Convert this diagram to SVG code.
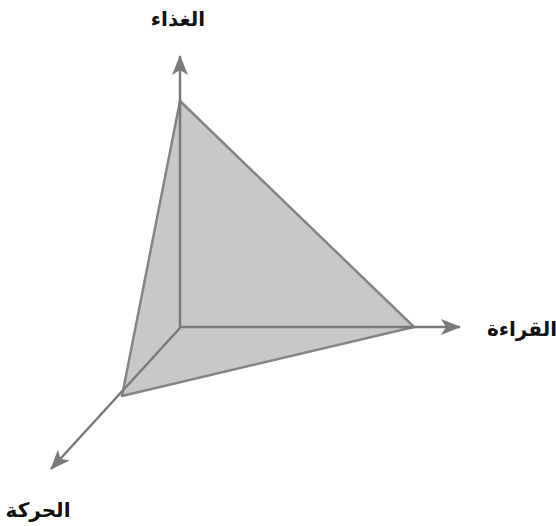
<svg xmlns="http://www.w3.org/2000/svg" width="556" height="526" viewBox="0 0 556 526">
<style>
.axis{stroke:#7a7a7a;stroke-width:2.5;fill:none}
.edge{stroke:#858585;stroke-width:2.5;fill:#c9c8c6;stroke-linejoin:round}
.lbl{font-family:"DejaVu Sans",sans-serif;font-weight:bold;font-size:20px;fill:#111}
</style>
<defs>
<marker id="ah" viewBox="0 0 20 16" refX="19" refY="8" markerWidth="20" markerHeight="16" orient="auto" markerUnits="userSpaceOnUse">
<path d="M0,0 L20,8 L0,16 L5,8 Z" fill="#7a7a7a"/>
</marker>
</defs>
<rect width="556" height="526" fill="#fff"/>
<g id="plane">
<polygon class="edge" points="180,101 414,327 122,396"/>
</g>
<g id="connectors">
<line class="axis" x1="180" y1="328" x2="180" y2="56" marker-end="url(#ah)"/>
<line class="axis" x1="180" y1="327" x2="460" y2="327" marker-end="url(#ah)"/>
<line class="axis" x1="180" y1="328" x2="51" y2="469" marker-end="url(#ah)"/>
</g>
<g id="food"><text class="lbl" x="178" y="26" text-anchor="middle" direction="rtl">الغذاء</text></g>
<g id="reading"><text class="lbl" x="522" y="336" text-anchor="middle" direction="rtl">القراءة</text></g>
<g id="movement"><text class="lbl" x="38" y="517" text-anchor="middle" direction="rtl">الحركة</text></g>
</svg>
